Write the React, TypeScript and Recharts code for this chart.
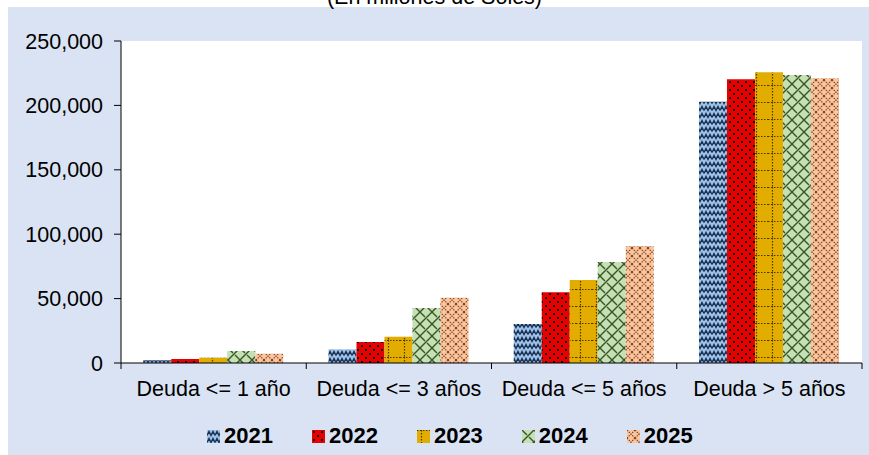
import { BarChart, Bar, XAxis, YAxis, CartesianGrid } from "recharts";

const categories = [
  "Deuda <= 1 año",
  "Deuda <= 3 años",
  "Deuda <= 5 años",
  "Deuda > 5 años",
];
const years = ["2021", "2022", "2023", "2024", "2025"];
const values2021 = [2100, 10600, 30300, 202900];
const values2022 = [3100, 16300, 54900, 220300];
const values2023 = [4100, 20400, 64400, 225700];
const values2024 = [9300, 42700, 78400, 223600];
const values2025 = [7200, 50700, 90800, 221000];
const yTicks = [0, 50000, 100000, 150000, 200000, 250000];

const seriesValues = [values2021, values2022, values2023, values2024, values2025];

const data = categories.map((name, i) => {
  const row: any = { name };
  years.forEach((y, k) => {
    row[y] = seriesValues[k][i];
  });
  return row;
});

const FONT = "'Liberation Sans', Arial, sans-serif";
const W = 869;
const H = 455;
const PLOT_LEFT = 121;
const PLOT_RIGHT = 862;
const BAND = (PLOT_RIGHT - PLOT_LEFT) / categories.length;

const Patterns = () => (
  <defs>
    <pattern id="p2021" width="8" height="7" patternUnits="userSpaceOnUse">
      <rect width="8" height="7" fill="#9DC3E6" />
      <path
        d="M0 5.5 L2 1.5 L4 5.5 L6 1.5 L8 5.5"
        fill="none"
        stroke="#1A2F55"
        strokeWidth="1.4"
      />
    </pattern>
    <pattern id="p2022" width="8" height="8" patternUnits="userSpaceOnUse">
      <rect width="8" height="8" fill="#E60000" />
      <rect x="1" y="1" width="2" height="2" fill="#000" />
      <rect x="5" y="5" width="2" height="2" fill="#000" />
    </pattern>
    <pattern id="p2023" width="16" height="17" patternUnits="userSpaceOnUse">
      <rect width="16" height="17" fill="#E2AC00" />
      <line x1="0" y1="0.5" x2="16" y2="0.5" stroke="#4D3B00" strokeWidth="1.2" strokeDasharray="1.5 1.5" />
      <line x1="4.5" y1="0" x2="4.5" y2="17" stroke="#4D3B00" strokeWidth="1.2" strokeDasharray="1.5 1.5" />
    </pattern>
    <pattern id="p2024" width="12" height="12" patternUnits="userSpaceOnUse">
      <rect width="12" height="12" fill="#C5E0B4" />
      <path
        d="M0 12 L12 0 M0 0 L5 5 M7 7 L12 12"
        fill="none"
        stroke="#375623"
        strokeWidth="1.4"
      />
    </pattern>
    <pattern id="p2025" width="8" height="8" patternUnits="userSpaceOnUse">
      <rect width="8" height="8" fill="#F8C6A2" />
      <path
        d="M0 0 L8 8 M8 0 L0 8"
        fill="none"
        stroke="#843C0C"
        strokeWidth="1.1"
        strokeDasharray="1.5 1"
      />
    </pattern>
  </defs>
);

const XTick = (props: any) => {
  const { x, y, payload, index } = props;
  const left = x - BAND / 2;
  return (
    <g>
      <line x1={left} y1={y} x2={left} y2={y + 6} stroke="#000" />
      {index === categories.length - 1 && (
        <line x1={x + BAND / 2} y1={y} x2={x + BAND / 2} y2={y + 6} stroke="#000" />
      )}
      <text
        x={x}
        y={y + 33}
        textAnchor="middle"
        fontSize={21.5}
        fontFamily={FONT}
        fill="#000"
      >
        {payload.value}
      </text>
    </g>
  );
};

const LegendRow = () => (
  <div
    style={{
      position: "absolute",
      left: 207,
      top: 424,
      display: "flex",
      alignItems: "center",
      fontFamily: FONT,
      fontWeight: "bold",
      fontSize: 22,
      lineHeight: "24px",
    }}
  >
    {years.map((y) => (
      <div key={y} style={{ display: "flex", alignItems: "center", marginRight: 39 }}>
        <svg width={13} height={13} style={{ marginRight: 4 }}>
          <rect width={13} height={13} fill={`url(#p${y})`} />
        </svg>
        <span>{y}</span>
      </div>
    ))}
  </div>
);

const App = () => {
  return (
    <div
      style={{
        position: "absolute",
        left: 0,
        top: 0,
        width: W,
        height: H,
        background: "#fff",
        overflow: "hidden",
      }}
    >
      <div
        style={{
          position: "absolute",
          left: 8,
          top: 7,
          width: W - 8,
          height: H - 7,
          background: "#DAE3F3",
        }}
      />
      <div
        style={{
          position: "absolute",
          left: 0,
          width: W,
          top: -13,
          textAlign: "center",
          fontFamily: FONT,
          fontSize: 21.5,
          lineHeight: "21px",
          color: "#000",
        }}
      >
        (En millones de Soles)
      </div>
      <div style={{ position: "absolute", left: 0, top: 0 }}>
        <BarChart
          width={W}
          height={H}
          data={data}
          margin={{ top: 41, right: W - PLOT_RIGHT, left: 0, bottom: 52 }}
          barCategoryGap="12%"
          barGap={0}
        >
          <Patterns />
          <CartesianGrid horizontal={false} vertical={false} fill="#fff" />
          <XAxis
            dataKey="name"
            height={40}
            axisLine={{ stroke: "#000" }}
            tickLine={false}
            tickSize={0}
            tickMargin={0}
            interval={0}
            tick={<XTick />}
          />
          <YAxis
            width={PLOT_LEFT}
            domain={[0, 250000]}
            ticks={yTicks}
            interval={0}
            axisLine={{ stroke: "#000" }}
            tickLine={{ stroke: "#000" }}
            tickSize={7}
            tickMargin={11}
            tick={{ fontSize: 21.5, fontFamily: FONT, fill: "#000" }}
            tickFormatter={(v: number) => v.toLocaleString("en-US")}
          />
          {years.map((y) => (
            <Bar
              key={y}
              dataKey={y}
              fill={`url(#p${y})`}
              isAnimationActive={false}
            />
          ))}
        </BarChart>
      </div>
      <LegendRow />
    </div>
  );
};

export default App;
